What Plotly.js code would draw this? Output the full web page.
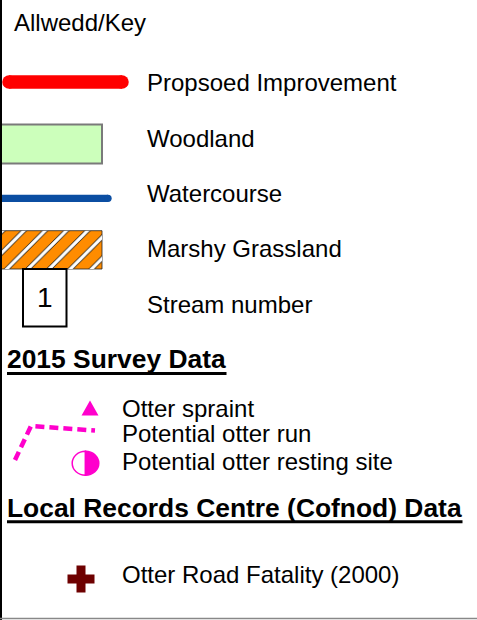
<!DOCTYPE html>
<html>
<head>
<meta charset="utf-8">
<script src="https://cdn.plot.ly/plotly-3.0.1.min.js"></script>
<style>html,body{margin:0;padding:0;background:#fff;}#chart{width:477px;height:620px;}</style>
</head>
<body>
<div id="chart"></div>
<script>
// ---- content ----
const keyTitle = 'Allwedd/Key';
const mapLabels = ['Propsoed Improvement', 'Woodland', 'Watercourse', 'Marshy Grassland', 'Stream number'];
const streamNumbers = ['1'];
const surveyHeading = '2015 Survey Data';
const surveyLabels = ['Otter spraint', 'Potential otter run', 'Potential otter resting site'];
const recordsHeading = 'Local Records Centre (Cofnod) Data';
const recordsLabels = ['Otter Road Fatality (2000)'];

// ---- geometry (pixel space of the key panel) ----
const W = 477, H = 620;
const mapRowY = [82.5, 138, 193.5, 248.5, 304.5];
const surveyRowY = [408.5, 433.5, 461.8];
const recordsRowY = [574.5];
const headingY = [359.3, 508.4];
const labelX1 = 146, labelX2 = 121, headingX = 6;

const FONT = 'Liberation Sans, Arial, sans-serif';
const MAGENTA = '#ff00cc';

const ann = [];
function addText(txt, x, y, size, bold, xanchor) {
  ann.push({
    text: bold ? '<b>' + txt + '</b>' : txt,
    x: x, y: y, xref: 'x', yref: 'y',
    xanchor: xanchor || 'left', yanchor: 'middle',
    showarrow: false, borderpad: 0,
    font: {family: FONT, size: size, color: '#000'}
  });
}
addText(keyTitle, 13, 22.7, 24, false);
mapLabels.forEach((t, i) => addText(t, labelX1, mapRowY[i], 24, false));
addText(streamNumbers[0], 44.7, 297.5, 28, false, 'center');
addText(surveyHeading, headingX, headingY[0], 26.4, true);
surveyLabels.forEach((t, i) => addText(t, labelX2, surveyRowY[i], 24, false));
addText(recordsHeading, headingX, headingY[1], 26.4, true);
recordsLabels.forEach((t, i) => addText(t, labelX2, recordsRowY[i], 24, false));

const traces = [];
// Proposed improvement: thick red line with round ends
traces.push({x: [9, 122], y: [82, 82], mode: 'lines+markers', hoverinfo: 'skip',
  line: {color: '#ff0000', width: 13.5}, marker: {color: '#ff0000', size: 13.5}});
// Watercourse: blue line
traces.push({x: [-5, 108], y: [198.3, 198.3], mode: 'lines+markers', hoverinfo: 'skip',
  line: {color: '#0b4ea2', width: 7.3}, marker: {color: '#0b4ea2', size: 7.3}});
// Marshy grassland hatch (black edge beside white stripe)
const mx = [-2, 102, 102, -2, -2], my = [230.7, 230.7, 269, 269, 230.7];
traces.push({x: mx, y: my, mode: 'lines', fill: 'toself', hoverinfo: 'skip',
  line: {width: 0.8, color: '#222'}, fillcolor: '#ff8c00',
  fillpattern: {shape: '/', bgcolor: '#ff8c00', fgcolor: '#000', size: 15, solidity: 0.3}});
traces.push({x: mx, y: my, mode: 'lines', fill: 'toself', hoverinfo: 'skip',
  line: {width: 0}, fillcolor: 'rgba(0,0,0,0)',
  fillpattern: {shape: '/', bgcolor: 'rgba(0,0,0,0)', fgcolor: '#ffffff', size: 15, solidity: 0.22}});
// Potential otter run: dashed magenta polyline
traces.push({x: [15, 31, 95], y: [460, 426, 430.5], mode: 'lines', hoverinfo: 'skip',
  line: {color: MAGENTA, width: 4.5, dash: '9px,5px'}});
// Otter road fatality: dark red cross
traces.push({x: [81], y: [579], mode: 'markers', hoverinfo: 'skip',
  marker: {symbol: 'cross', size: 22.5, color: '#6e0000', line: {width: 0}}});

// shapes
const shapes = [];
// woodland rectangle
shapes.push({type: 'rect', xref: 'x', yref: 'y', x0: -2, x1: 102, y0: 124.5, y1: 163.5,
  fillcolor: '#ccffbb', line: {color: '#7a7a7a', width: 2}});
// stream number box
shapes.push({type: 'rect', xref: 'x', yref: 'y', x0: 23, x1: 66.5, y0: 269, y1: 326.5,
  fillcolor: '#ffffff', line: {color: '#000', width: 2}});
// otter spraint triangle
const tc = [90, 408], tw = 17, th = 15;
shapes.push({type: 'path', xref: 'x', yref: 'y', fillcolor: MAGENTA, line: {width: 0},
  path: `M ${tc[0] - tw / 2},${tc[1] + th / 2} L ${tc[0] + tw / 2},${tc[1] + th / 2} L ${tc[0]},${tc[1] - th / 2} Z`});
// resting site half-filled circle (cubic Bezier approximation)
const cc = [85.5, 463.3], rx = 13.3, ry = 12, k = 0.5523;
function halfEllipse(side) { // side -1 = left, +1 = right
  const [cx, cy] = cc, sx = side * rx;
  return `M ${cx},${cy - ry} C ${cx + sx * k},${cy - ry} ${cx + sx},${cy - ry * k} ${cx + sx},${cy} ` +
         `C ${cx + sx},${cy + ry * k} ${cx + sx * k},${cy + ry} ${cx},${cy + ry} Z`;
}
shapes.push({type: 'path', xref: 'x', yref: 'y', fillcolor: '#ffffff', line: {color: MAGENTA, width: 1.5},
  path: halfEllipse(-1)});
shapes.push({type: 'path', xref: 'x', yref: 'y', fillcolor: MAGENTA, line: {color: MAGENTA, width: 1.5},
  path: halfEllipse(1)});
// heading underlines
shapes.push({type: 'line', xref: 'x', yref: 'y', x0: 7, x1: 226.5, y0: 373.5, y1: 373.5, line: {color: '#000', width: 3}});
shapes.push({type: 'line', xref: 'x', yref: 'y', x0: 7, x1: 462.5, y0: 521.8, y1: 521.8, line: {color: '#000', width: 3}});
// panel borders
shapes.push({type: 'line', xref: 'x', yref: 'y', x0: 1, x1: 1, y0: 0, y1: H, line: {color: '#000', width: 2}});
shapes.push({type: 'line', xref: 'x', yref: 'y', x0: 0, x1: W, y0: 618.5, y1: 618.5, line: {color: '#888', width: 1.5}});

const layout = {
  width: W, height: H,
  margin: {l: 0, r: 0, t: 0, b: 0, pad: 0},
  paper_bgcolor: '#fff', plot_bgcolor: '#fff',
  showlegend: false,
  xaxis: {range: [0, W], visible: false, fixedrange: true},
  yaxis: {range: [H, 0], visible: false, fixedrange: true},
  annotations: ann,
  shapes: shapes
};
Plotly.newPlot('chart', traces, layout, {staticPlot: true, displayModeBar: false});
</script>
</body>
</html>
